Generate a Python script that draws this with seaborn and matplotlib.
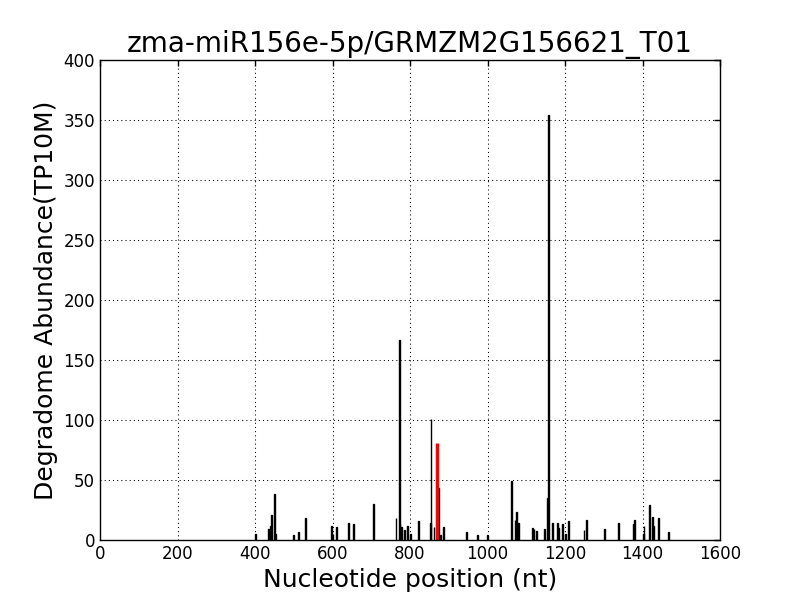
import pandas as pd
import matplotlib
matplotlib.use('Agg')
import matplotlib.pyplot as plt
import seaborn as sns

# 降解組讀段位置 (nt) 與豐度 (TP10M)
positions = [401, 434, 440, 442, 450, 452, 499, 512, 530, 597, 601, 610, 641, 654,
             705, 764, 772, 774, 778, 785, 793, 801, 822, 852, 854, 862, 873, 878,
             887, 945, 974, 1000, 1062, 1071, 1075, 1080, 1116, 1120, 1126, 1147,
             1155, 1157, 1167, 1180, 1184, 1193, 1201, 1209, 1249, 1255, 1301, 1338,
             1376, 1379, 1402, 1404, 1418, 1425, 1428, 1441, 1467]
abundance = [5, 9, 12, 21, 38, 5, 4.5, 7, 18, 12, 5, 11, 14, 13,
             30, 18, 167, 13, 11, 8, 12, 5, 16, 14, 101, 11, 43, 4,
             11, 7, 4, 4, 49, 17, 23, 14, 10, 9, 7.5, 9,
             35, 354, 14, 14, 10, 13, 5, 16, 8, 17, 9, 14,
             13, 17, 5, 12, 29, 19, 12, 18, 7]

# miRNA 切割位點
target_pos = [869]
target_abund = [81]

df = pd.DataFrame({'pos': positions, 'val': abundance})
df_t = pd.DataFrame({'pos': target_pos, 'val': target_abund})

sns.set_theme(style='white', rc={'text.color': 'black', 'axes.labelcolor': 'black'})
plt.rcParams['font.family'] = ['DejaVu Sans']

fig, ax = plt.subplots(figsize=(8, 6), dpi=100)
fig.subplots_adjust(left=0.125, right=0.9, top=0.9, bottom=0.1)

sns.barplot(data=df, x='pos', y='val', native_scale=True, color='black',
            edgecolor='black', linewidth=1.0, width=1.0, ax=ax, errorbar=None)
sns.barplot(data=df_t, x='pos', y='val', native_scale=True, color='red',
            edgecolor='red', linewidth=2.5, width=1.0, ax=ax, errorbar=None)

ax.set_xlim(0, 1600)
ax.set_ylim(0, 400)
ax.set_xticks(range(0, 1601, 200))
ax.set_yticks(range(0, 401, 50))
ax.grid(True, color='black', linestyle=(0, (1, 3)), linewidth=0.75)
ax.set_axisbelow(True)
for s in ax.spines.values():
    s.set_color('black')
    s.set_linewidth(1.0)
ax.tick_params(direction='in', length=4, width=1, top=True, right=True,
               labelsize=12, colors='black')

ax.set_title('zma-miR156e-5p/GRMZM2G156621_T01', fontsize=20, color='black')
ax.set_xlabel('Nucleotide position (nt)', fontsize=18)
ax.set_ylabel('Degradome Abundance(TP10M)', fontsize=18)

fig.savefig('out.png', dpi=100, facecolor='white')
